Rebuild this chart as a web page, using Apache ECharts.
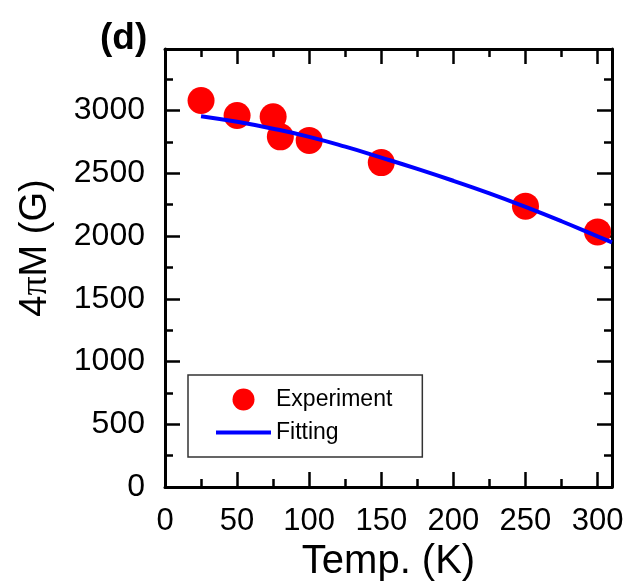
<!DOCTYPE html>
<html>
<head>
<meta charset="utf-8">
<script src="https://cdn.jsdelivr.net/npm/echarts@6/dist/echarts.min.js"></script>
<style>html,body{margin:0;padding:0;background:#fff}#c{width:628px;height:587px}</style>
</head>
<body>
<div id="c"></div>
<script>
// Experimental points
const tempExp = [25, 50, 75, 80, 100, 150, 250, 300];
const magExp = [3080, 2960, 2950, 2790, 2762, 2585, 2238, 2033];
// Fitting curve
const tempFit = [25, 50, 75, 100, 125, 150, 175, 200, 225, 250, 275, 300, 310];
const magFit = [2955, 2910, 2855, 2790, 2712, 2625, 2535, 2440, 2340, 2232, 2118, 1998, 1950];
// Axis ranges / ticks
const xMin = 0, xMax = 310, xMajor = 50, xMinor = 25;
const yMin = 0, yMax = 3490, yMajor = 500, yMinor = 250;

const FONT = 'Liberation Sans, Arial, sans-serif';
const chart = echarts.init(document.getElementById('c'));

function xAx(pos, interval, len, showLine, showLabel, extra) {
  return Object.assign({
    type: 'value', position: pos, min: xMin, max: xMax, interval: interval,
    axisLine: {show: showLine, onZero: false, lineStyle: {color: '#000', width: 3}},
    axisTick: {show: true, inside: true, length: len, lineStyle: {color: '#000', width: 2.5}},
    axisLabel: {show: showLabel},
    splitLine: {show: false}
  }, extra || {});
}
function yAx(pos, interval, len, showLine, showLabel, extra) {
  return Object.assign({
    type: 'value', position: pos, min: yMin, max: yMax, interval: interval,
    axisLine: {show: showLine, onZero: false, lineStyle: {color: '#000', width: 3}},
    axisTick: {show: true, inside: true, length: len, lineStyle: {color: '#000', width: 2.5}},
    axisLabel: {show: showLabel},
    splitLine: {show: false}
  }, extra || {});
}

chart.setOption({
  animation: false,
  backgroundColor: '#fff',
  title: {
    text: '(d)', left: 95, top: 15,
    textStyle: {fontFamily: FONT, fontWeight: 'bold', fontSize: 37, color: '#000'}
  },
  grid: {left: 165, right: 16, top: 49, bottom: 99, containLabel: false},
  legend: {
    orient: 'vertical', left: 188, top: 375,
    padding: [13, 30, 13, 28],
    borderColor: '#333', borderWidth: 1.5,
    itemWidth: 55, itemHeight: 22, itemGap: 10,
    textStyle: {fontFamily: FONT, fontSize: 23, color: '#000'},
    data: [
      {name: 'Experiment', icon: 'circle'},
      {name: 'Fitting', icon: 'path://M0 0H55V4H0Z'}
    ]
  },
  xAxis: [
    xAx('bottom', xMajor, 15, true, true, {
      name: 'Temp. (K)', nameLocation: 'middle', nameGap: 51,
      nameTextStyle: {fontFamily: FONT, fontSize: 40, color: '#000'},
      axisLabel: {show: true, showMaxLabel: false, margin: 19, fontFamily: FONT, fontSize: 31, color: '#000',
        formatter: v => String(v)}
    }),
    xAx('bottom', xMinor, 8, false, false),
    xAx('top', xMajor, 15, true, false),
    xAx('top', xMinor, 8, false, false)
  ],
  yAxis: [
    yAx('left', yMajor, 15, true, true, {
      name: '{a|4}{p|π}{a|M (G)}', nameLocation: 'middle', nameGap: 110,
      nameTextStyle: {fontFamily: FONT, fontSize: 38, color: '#000', padding: [0, 0, 0, 40],
        rich: {a: {fontFamily: FONT, fontSize: 38, color: '#000'},
               p: {fontFamily: 'Liberation Serif, serif', fontSize: 38, color: '#000'}}},
      axisLabel: {show: true, showMaxLabel: false, margin: 20, fontFamily: FONT, fontSize: 32, color: '#000',
        formatter: v => String(v)}
    }),
    yAx('left', yMinor, 8, false, false),
    yAx('right', yMajor, 15, true, false),
    yAx('right', yMinor, 8, false, false)
  ],
  series: [
    {
      name: 'Experiment', type: 'scatter', xAxisIndex: 0, yAxisIndex: 0,
      symbol: 'circle', symbolSize: 27, z: 2,
      itemStyle: {color: '#ff0000', opacity: 1},
      data: tempExp.map((t, i) => [t, magExp[i]])
    },
    {
      name: 'Fitting', type: 'line', xAxisIndex: 0, yAxisIndex: 0,
      symbol: 'none', smooth: true, z: 3,
      lineStyle: {color: '#0000ff', width: 4},
      itemStyle: {color: '#0000ff'},
      data: tempFit.map((t, i) => [t, magFit[i]])
    }
  ]
});
</script>
</body>
</html>
